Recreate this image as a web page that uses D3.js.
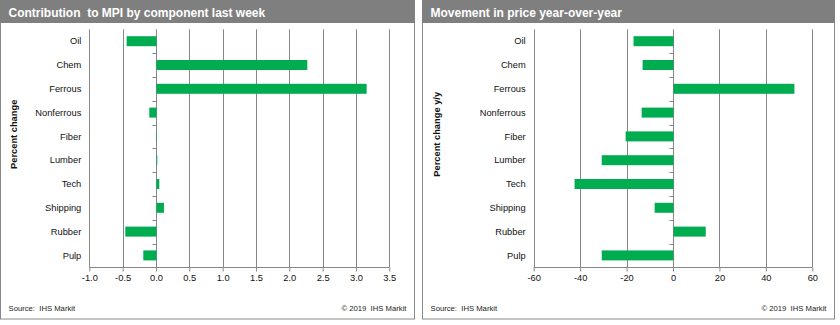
<!DOCTYPE html>
<html>
<head>
<meta charset="utf-8">
<script src="https://cdn.jsdelivr.net/npm/d3@7"></script>
<style>
  html, body { margin: 0; padding: 0; background: #fff; }
  svg { display: block; font-family: "Liberation Sans", Arial, sans-serif; }
  text { white-space: pre; }
</style>
</head>
<body>
<svg id="chart" width="840" height="325"></svg>
<script>
// ---- data ----
const categories = ["Oil", "Chem", "Ferrous", "Nonferrous", "Fiber", "Lumber", "Tech", "Shipping", "Rubber", "Pulp"];
const contribution = [-0.44, 2.27, 3.16, -0.10, 0.00, 0.02, 0.05, 0.12, -0.46, -0.19];
const yoyChange = [-17, -13.1, 52.3, -13.5, -20.4, -30.7, -42.4, -7.9, 14.1, -30.7];
const contribTicks = [-1.0, -0.5, 0.0, 0.5, 1.0, 1.5, 2.0, 2.5, 3.0, 3.5];
const yoyTicks = [-60, -40, -20, 0, 20, 40, 60];
const titles = ["Contribution  to MPI by component last week", "Movement in price year-over-year"];
const yTitles = ["Percent change", "Percent change y/y"];
const sourceText = "Source:  IHS Markit";
const copyrightText = "\u00A9 2019  IHS Markit";

const GREEN = "#00ac50";
const GRID = "#878787";
const svg = d3.select("#chart");

const hyph = f => (d => f(d).replace("\u2212", "-"));

const panels = [
  { x0: 0.5, x1: 414.5, plotL: 89.3, plotR: 389.3, values: contribution, ticks: contribTicks,
    fmt: hyph(d3.format(".1f")), title: titles[0], yTitle: yTitles[0], yTitleX: 14 },
  { x0: 422.5, x1: 834.5, plotL: 533.7, plotR: 812.3, values: yoyChange, ticks: yoyTicks,
    fmt: hyph(d3.format("d")), title: titles[1], yTitle: yTitles[1], yTitleX: 437 }
];

const plotTop = 29.3, plotBottom = 267.3;

panels.forEach(p => {
  const g = svg.append("g");
  // panel border
  g.append("rect").attr("x", p.x0).attr("y", 0.5).attr("width", p.x1 - p.x0).attr("height", 318.5)
    .attr("fill", "#fff").attr("stroke", "#8a8a8a").attr("stroke-width", 1);
  // title bar
  g.append("rect").attr("x", p.x0 - 0.5).attr("y", 0).attr("width", p.x1 - p.x0 + 1).attr("height", 23)
    .attr("fill", "#7f7f7f");
  g.append("text").attr("x", p.x0 + 8).attr("y", 16.5).attr("fill", "#fff")
    .attr("font-size", "12px").attr("font-weight", "bold").text(p.title);

  const ext = d3.extent(p.ticks);
  const x = d3.scaleLinear().domain(ext).range([p.plotL, p.plotR]);
  const y = d3.scaleBand().domain(categories).range([plotTop, plotBottom])
    .paddingInner(0.58).paddingOuter(0.29);

  // gridlines
  g.append("g").selectAll("line").data(p.ticks).join("line")
    .attr("x1", d => Math.round(x(d)) + 0.5).attr("x2", d => Math.round(x(d)) + 0.5)
    .attr("y1", plotTop).attr("y2", plotBottom)
    .attr("stroke", GRID).attr("stroke-width", 1);

  // x axis
  const xAxis = d3.axisBottom(x).tickValues(p.ticks).tickFormat(p.fmt).tickSize(4).tickPadding(3);
  const ax = g.append("g").attr("transform", `translate(0,${Math.round(plotBottom) + 0.5})`).call(xAxis);
  ax.select(".domain").attr("stroke", GRID).attr("d", `M${x(ext[0])},0H${x(ext[1])}`);
  ax.selectAll(".tick line").attr("stroke", GRID);
  ax.selectAll(".tick text").attr("font-size", "9.3px").attr("fill", "#111")
    .attr("font-family", "Liberation Sans, Arial, sans-serif");

  // category tick marks on the zero line
  const zx = Math.round(x(0)) + 0.5;
  const step = y.step();
  const bounds = d3.range(1, categories.length).map(i => y.range()[0] + i * step);
  g.append("g").selectAll("line").data(bounds).join("line")
    .attr("x1", zx - 4).attr("x2", zx).attr("y1", d => Math.round(d) + 0.5).attr("y2", d => Math.round(d) + 0.5)
    .attr("stroke", GRID);

  // bars
  g.append("g").selectAll("rect").data(categories).join("rect")
    .attr("x", (c, i) => Math.min(zx, x(p.values[i])))
    .attr("width", (c, i) => Math.abs(x(p.values[i]) - zx))
    .attr("y", c => y(c))
    .attr("height", y.bandwidth())
    .attr("fill", GREEN);

  // category labels
  g.append("g").selectAll("text").data(categories).join("text")
    .attr("x", p.plotL - 8).attr("y", c => y(c) + y.bandwidth() / 2)
    .attr("dy", "0.35em").attr("text-anchor", "end")
    .attr("font-size", "9.3px").attr("fill", "#111").text(c => c);

  // y title
  g.append("text").attr("transform", `translate(${p.yTitleX},${(plotTop + plotBottom) / 2 - 14}) rotate(-90)`)
    .attr("text-anchor", "middle").attr("dy", "0.35em")
    .attr("font-size", "9.3px").attr("font-weight", "bold").attr("fill", "#111").text(p.yTitle);

  // footer
  g.append("text").attr("x", p.x0 + 8).attr("y", 311).attr("font-size", "7.7px").attr("fill", "#222").text(sourceText);
  g.append("text").attr("x", p.x1 - 8).attr("y", 311).attr("text-anchor", "end")
    .attr("font-size", "7.7px").attr("fill", "#222").text(copyrightText);
});
</script>
</body>
</html>
